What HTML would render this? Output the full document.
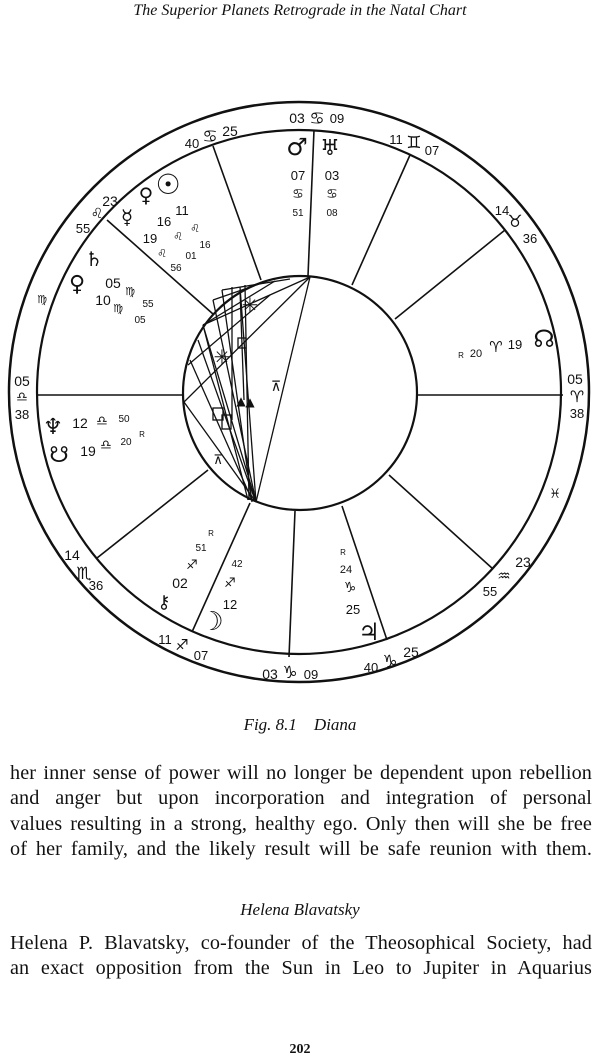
<!DOCTYPE html>
<html><head><meta charset="utf-8"><style>
html,body{margin:0;padding:0;background:#fff;}
body{width:600px;height:1062px;position:relative;overflow:hidden;font-family:"Liberation Serif",serif;color:#111;}
.t{position:absolute;left:0;width:600px;text-align:center;font-style:italic;}
.line{position:absolute;left:10px;width:582px;font-size:20.2px;letter-spacing:0.1px;text-align:justify;text-align-last:justify;white-space:nowrap;}
</style></head><body>
<div class="t" style="top:2px;font-size:16px;">The Superior Planets Retrograde in the Natal Chart</div>
<svg width="600" height="700" style="position:absolute;left:0;top:0" font-family="DejaVu Sans, sans-serif" fill="#111">
<g fill="none" stroke="#111">
<circle cx="299" cy="392" r="290" stroke-width="2.5"/>
<circle cx="299" cy="392" r="262" stroke-width="2.2"/>
<circle cx="300" cy="393" r="117" stroke-width="2.2"/>
<g stroke-width="1.6">
<line x1="314" y1="130" x2="308" y2="276"/>
<line x1="213" y1="146" x2="261" y2="280"/>
<line x1="107" y1="220" x2="213" y2="314"/>
<line x1="38" y1="395" x2="183" y2="395"/>
<line x1="417" y1="395" x2="563" y2="395"/>
<line x1="410" y1="155" x2="352" y2="285"/>
<line x1="505" y1="230" x2="395" y2="319"/>
<line x1="389" y1="475" x2="493" y2="569"/>
<line x1="342" y1="506" x2="387" y2="640"/>
<line x1="295" y1="511" x2="289" y2="657"/>
<line x1="250" y1="503" x2="192" y2="632"/>
<line x1="208" y1="470" x2="97" y2="558"/>
</g>
<g stroke-width="1.3">
<line x1="310" y1="277" x2="256" y2="502"/>
<line x1="310" y1="277" x2="184" y2="402"/>
<line x1="310" y1="277" x2="203" y2="325"/>
<line x1="184" y1="402" x2="256" y2="502"/>
<line x1="203" y1="325" x2="256" y2="502"/>
<line x1="203" y1="325" x2="248" y2="500"/>
<line x1="213" y1="300" x2="256" y2="502"/>
<line x1="222" y1="290" x2="252" y2="502"/>
<line x1="240" y1="287" x2="256" y2="502"/>
<line x1="245" y1="285" x2="249" y2="500"/>
<line x1="275" y1="281" x2="203" y2="325"/>
<line x1="262" y1="283" x2="213" y2="300"/>
<line x1="290" y1="279" x2="222" y2="290"/>
<line x1="198" y1="340" x2="255" y2="500"/>
<line x1="190" y1="360" x2="252" y2="500"/>
<line x1="188" y1="365" x2="270" y2="295"/>
<line x1="232" y1="287" x2="232" y2="420"/>
<line x1="240" y1="290" x2="244" y2="400"/>
<rect x="238" y="338" width="8" height="10"/>
<rect x="213" y="408" width="10" height="12"/>
<rect x="222" y="415" width="9" height="14"/>
</g>
</g>
<g font-size="13">
<text x="222" y="364" font-size="20" text-anchor="middle">✳</text>
<text x="250" y="312" font-size="20" text-anchor="middle">✳</text>
<text x="276" y="391" font-size="14" text-anchor="middle">⊼</text>
<text x="218" y="464" font-size="13" text-anchor="middle">⊼</text>
<text x="241" y="405" font-size="12" text-anchor="middle">▲</text>
<text x="250" y="406" font-size="12" text-anchor="middle">▲</text>
</g>
<g font-size="13" text-anchor="middle">
<text x="297" y="123" font-family="Liberation Sans" font-size="14">03</text><text x="317" y="124" font-size="17" font-weight="bold">♋</text><text x="337" y="123" font-family="Liberation Sans" font-size="13">09</text>
<text x="297" y="155" font-size="24" font-weight="bold">♂</text>
<text x="330" y="155" font-size="22" font-weight="bold">♅</text>
<text x="298" y="180" font-family="Liberation Sans">07</text><text x="332" y="180" font-family="Liberation Sans">03</text>
<text x="298" y="198" font-size="13" font-weight="bold">♋</text><text x="332" y="198" font-size="13" font-weight="bold">♋</text>
<text x="298" y="216" font-family="Liberation Sans" font-size="10">51</text><text x="332" y="216" font-family="Liberation Sans" font-size="10">08</text>
<text x="192" y="148" font-family="Liberation Sans">40</text><text x="210" y="142" font-size="17" font-weight="bold">♋</text><text x="230" y="136" font-family="Liberation Sans" font-size="14">25</text>
<text x="396" y="144" font-family="Liberation Sans">11</text><text x="414" y="148" font-size="17" font-weight="bold">♊</text><text x="432" y="155" font-family="Liberation Sans">07</text>
<text x="502" y="215" font-family="Liberation Sans">14</text><text x="515" y="227" font-size="17" font-weight="bold">♉</text><text x="530" y="243" font-family="Liberation Sans">36</text>
<text x="544" y="347" font-size="24" font-weight="bold">☊</text>
<text x="496" y="352" font-size="15" font-weight="bold">♈</text><text x="515" y="349" font-family="Liberation Sans">19</text><text x="476" y="357" font-family="Liberation Sans" font-size="11">20</text><text x="461" y="358" font-family="Liberation Sans" font-size="8">R</text>
<text x="575" y="384" font-family="Liberation Sans" font-size="14">05</text><text x="577" y="402" font-size="16" font-weight="bold">♈</text><text x="577" y="418" font-family="Liberation Sans">38</text>
<text x="555" y="498" font-size="13" font-weight="bold">♓</text>
<text x="523" y="567" font-family="Liberation Sans" font-size="14">23</text><text x="504" y="581" font-size="15" font-weight="bold">♒</text><text x="490" y="596" font-family="Liberation Sans">55</text>
<text x="369" y="640" font-size="24" font-weight="bold">♃</text>
<text x="371" y="672" font-family="Liberation Sans">40</text><text x="390" y="667" font-size="17" font-weight="bold">♑</text><text x="411" y="657" font-family="Liberation Sans" font-size="14">25</text>
<text x="343" y="555" font-family="Liberation Sans" font-size="8">R</text><text x="346" y="573" font-family="Liberation Sans" font-size="11">24</text><text x="350" y="592" font-size="14" font-weight="bold">♑</text><text x="353" y="614" font-family="Liberation Sans">25</text>
<text x="270" y="679" font-family="Liberation Sans" font-size="14">03</text><text x="290" y="678" font-size="17" font-weight="bold">♑</text><text x="311" y="679" font-family="Liberation Sans">09</text>
<text x="212" y="630" font-size="26" font-weight="bold">☽</text>
<text x="230" y="609" font-family="Liberation Sans">12</text><text x="230" y="587" font-size="13" font-weight="bold">♐</text><text x="237" y="567" font-family="Liberation Sans" font-size="10">42</text>
<text x="165" y="644" font-family="Liberation Sans">11</text><text x="182" y="650" font-size="15" font-weight="bold">♐</text><text x="201" y="660" font-family="Liberation Sans">07</text>
<text x="164" y="608" font-size="18" font-weight="bold">⚷</text>
<text x="180" y="588" font-family="Liberation Sans" font-size="14">02</text><text x="192" y="569" font-size="13" font-weight="bold">♐</text><text x="201" y="551" font-family="Liberation Sans" font-size="10">51</text><text x="211" y="536" font-family="Liberation Sans" font-size="8">R</text>
<text x="72" y="560" font-family="Liberation Sans" font-size="14">14</text><text x="84" y="579" font-size="17" font-weight="bold">♏</text><text x="96" y="590" font-family="Liberation Sans">36</text>
<text x="53" y="434" font-size="22" font-weight="bold">♆</text><text x="80" y="428" font-family="Liberation Sans" font-size="14">12</text><text x="102" y="425" font-size="13" font-weight="bold">♎</text><text x="124" y="422" font-family="Liberation Sans" font-size="10">50</text>
<text x="59" y="462" font-size="22">☋</text><text x="88" y="456" font-family="Liberation Sans" font-size="14">19</text><text x="106" y="449" font-size="13" font-weight="bold">♎</text><text x="126" y="445" font-family="Liberation Sans" font-size="10">20</text><text x="142" y="437" font-family="Liberation Sans" font-size="8">R</text>
<text x="22" y="386" font-family="Liberation Sans" font-size="14">05</text><text x="22" y="401" font-size="13" font-weight="bold">♎</text><text x="22" y="419" font-family="Liberation Sans">38</text>
<text x="42" y="303" font-size="11" font-weight="bold">♍</text>
<text x="94" y="266" font-size="20" font-weight="bold">♄</text><text x="77" y="291" font-size="22" font-weight="bold">♀</text>
<text x="113" y="288" font-family="Liberation Sans" font-size="14">05</text><text x="130" y="295" font-size="11" font-weight="bold">♍</text><text x="148" y="307" font-family="Liberation Sans" font-size="10">55</text>
<text x="103" y="305" font-family="Liberation Sans" font-size="14">10</text><text x="118" y="312" font-size="11" font-weight="bold">♍</text><text x="140" y="323" font-family="Liberation Sans" font-size="10">05</text>
<text x="110" y="206" font-family="Liberation Sans" font-size="14">23</text><text x="97" y="218" font-size="14" font-weight="bold">♌</text><text x="83" y="233" font-family="Liberation Sans">55</text>
<text x="168" y="194" font-size="28" font-weight="bold">☉</text><text x="146" y="202" font-size="20" font-weight="bold">♀</text><text x="127" y="224" font-size="20" font-weight="bold">☿</text>
<text x="182" y="215" font-family="Liberation Sans">11</text><text x="195" y="232" font-size="11" font-weight="bold">♌</text><text x="205" y="248" font-family="Liberation Sans" font-size="10">16</text>
<text x="164" y="226" font-family="Liberation Sans">16</text><text x="178" y="240" font-size="11" font-weight="bold">♌</text><text x="191" y="259" font-family="Liberation Sans" font-size="10">01</text>
<text x="150" y="243" font-family="Liberation Sans">19</text><text x="162" y="257" font-size="11" font-weight="bold">♌</text><text x="176" y="271" font-family="Liberation Sans" font-size="10">56</text>
</g>
</svg>
<div class="t" style="top:715px;font-size:17px;">Fig. 8.1&nbsp;&nbsp;&nbsp; Diana</div>
<div class="line" style="top:762px;">her inner sense of power will no longer be dependent upon rebellion</div>
<div class="line" style="top:787px;">and anger but upon incorporation and integration of personal</div>
<div class="line" style="top:813px;">values resulting in a strong, healthy ego. Only then will she be free</div>
<div class="line" style="top:838px;">of her family, and the likely result will be safe reunion with them.</div>
<div class="t" style="top:900px;font-size:17px;">Helena Blavatsky</div>
<div class="line" style="top:932px;">Helena P. Blavatsky, co-founder of the Theosophical Society, had</div>
<div class="line" style="top:957px;">an exact opposition from the Sun in Leo to Jupiter in Aquarius</div>
<div class="t" style="top:1042px;font-size:14px;font-style:normal;font-weight:bold;">202</div>
</body></html>
